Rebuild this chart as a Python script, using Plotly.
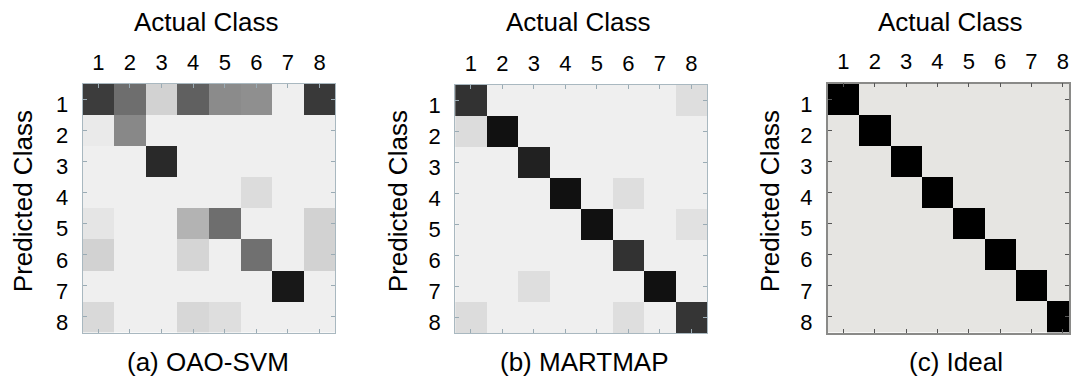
import plotly.graph_objects as go

W, H = 1071, 381

classes = [1, 2, 3, 4, 5, 6, 7, 8]
tick_labels = ["1", "2", "3", "4", "5", "6", "7", "8"]

# gray darkness of each cell (0 = background, 1 = black); rows = predicted, cols = actual
oao_svm = [
    [0.75, 0.54, 0.12, 0.60, 0.42, 0.40, 0.00, 0.76],
    [0.02, 0.43, 0.00, 0.00, 0.00, 0.00, 0.00, 0.00],
    [0.00, 0.00, 0.83, 0.00, 0.00, 0.00, 0.00, 0.00],
    [0.00, 0.00, 0.00, 0.00, 0.00, 0.08, 0.00, 0.00],
    [0.04, 0.00, 0.00, 0.25, 0.54, 0.00, 0.00, 0.12],
    [0.12, 0.00, 0.00, 0.11, 0.00, 0.53, 0.00, 0.12],
    [0.00, 0.00, 0.00, 0.00, 0.00, 0.00, 0.90, 0.00],
    [0.09, 0.00, 0.00, 0.10, 0.07, 0.00, 0.00, 0.00],
]
martmap = [
    [0.79, 0.00, 0.00, 0.00, 0.00, 0.00, 0.00, 0.07],
    [0.08, 0.93, 0.00, 0.00, 0.00, 0.00, 0.00, 0.00],
    [0.00, 0.00, 0.86, 0.00, 0.00, 0.00, 0.00, 0.00],
    [0.00, 0.00, 0.00, 0.93, 0.00, 0.07, 0.00, 0.00],
    [0.00, 0.00, 0.00, 0.00, 0.93, 0.00, 0.00, 0.06],
    [0.00, 0.00, 0.00, 0.00, 0.00, 0.79, 0.00, 0.00],
    [0.00, 0.00, 0.07, 0.00, 0.00, 0.00, 0.93, 0.00],
    [0.08, 0.00, 0.00, 0.00, 0.00, 0.07, 0.00, 0.78],
]
ideal = [
    [1, 0, 0, 0, 0, 0, 0, 0],
    [0, 1, 0, 0, 0, 0, 0, 0],
    [0, 0, 1, 0, 0, 0, 0, 0],
    [0, 0, 0, 1, 0, 0, 0, 0],
    [0, 0, 0, 0, 1, 0, 0, 0],
    [0, 0, 0, 0, 0, 1, 0, 0],
    [0, 0, 0, 0, 0, 0, 1, 0],
    [0, 0, 0, 0, 0, 0, 0, 1],
]
subtitles = ["(a) OAO-SVM", "(b) MARTMAP", "(c) Ideal"]
x_title = "Actual Class"
y_title = "Predicted Class"

FONT = "Liberation Sans, Arial, sans-serif"

# panel geometry in pixels: left, right, top, bottom
panels = [
    (82.7, 336.0, 84.3, 334.3),
    (456.0, 708.5, 85.0, 335.0),
    (829.3, 1080.5, 84.0, 334.3),
]
ytitle_x = [23.3, 399.0, 771.7]
xtitle_x = [206.7, 579.7, 952.5]
sub_x = [208.5, 585.8, 957.8]

fig = go.Figure()
mats = [oao_svm, martmap, ideal]
scales = [
    [[0, "#efefef"], [1, "#000000"]],
    [[0, "#efefef"], [1, "#000000"]],
    [[0, "#e6e5e2"], [1, "#000000"]],
]
for i, (m, cs) in enumerate(zip(mats, scales)):
    sfx = "" if i == 0 else str(i + 1)
    fig.add_trace(go.Heatmap(
        z=m, x=classes, y=classes, colorscale=cs, zmin=0, zmax=1,
        showscale=False, xaxis="x" + sfx, yaxis="y" + sfx,
        hoverinfo="skip",
    ))

layout = dict(
    width=W, height=H, margin=dict(l=0, r=0, t=0, b=0),
    paper_bgcolor="white", plot_bgcolor="white",
    font=dict(family=FONT, color="black"),
    showlegend=False,
)
annotations = []
for i, (l, r, t, b) in enumerate(panels):
    sfx = "" if i == 0 else str(i + 1)
    cell = (r - l) / 8.0
    right = min(r, W)
    xmax = 0.5 + (right - l) / cell
    if i < 2:
        lc, tc, lw = "#a9b8c0", "#9aabb4", 1
    else:
        lc, tc, lw = "#8a8a88", "#555555", 1.5
    layout["xaxis" + sfx] = dict(
        domain=[l / W, right / W], range=[0.5, xmax], anchor="y" + sfx,
        side="top", tickmode="array", tickvals=classes, ticktext=tick_labels,
        ticks="inside", ticklen=4, tickwidth=1, tickcolor=tc,
        showline=True, linecolor=lc, linewidth=lw, mirror="ticks",
        showgrid=False, zeroline=False,
        tickfont=dict(size=22, family=FONT, color="black"),
        ticklabelstandoff=4,
    )
    layout["yaxis" + sfx] = dict(
        domain=[1 - b / H, 1 - t / H], range=[8.5, 0.5], anchor="x" + sfx,
        tickmode="array", tickvals=classes, ticktext=tick_labels,
        ticks="inside", ticklen=4, tickwidth=1, tickcolor=tc,
        showline=True, linecolor=lc, linewidth=lw, mirror="ticks",
        showgrid=False, zeroline=False,
        tickfont=dict(size=22, family=FONT, color="black"),
        ticklabelstandoff=9, ticklabelshift=-5,
    )
    annotations.append(dict(
        text=x_title, x=xtitle_x[i] / W, y=1 - 22 / H, xref="paper", yref="paper",
        xanchor="center", yanchor="middle", showarrow=False,
        font=dict(size=26, family=FONT, color="black"),
    ))
    annotations.append(dict(
        text=y_title, x=ytitle_x[i] / W, y=1 - 202 / H, xref="paper", yref="paper",
        xanchor="center", yanchor="middle", showarrow=False, textangle=-90,
        font=dict(size=26, family=FONT, color="black"),
    ))
    annotations.append(dict(
        text=subtitles[i], x=sub_x[i] / W, y=1 - 364 / H, xref="paper", yref="paper",
        xanchor="center", yanchor="middle", showarrow=False,
        font=dict(size=26, family=FONT, color="black"),
    ))
layout["annotations"] = annotations
fig.update_layout(**layout)

fig.write_html(
    "out.html",
    config={"displayModeBar": False},
    post_script="document.body.style.margin='0';document.body.style.overflow='hidden';",
)
